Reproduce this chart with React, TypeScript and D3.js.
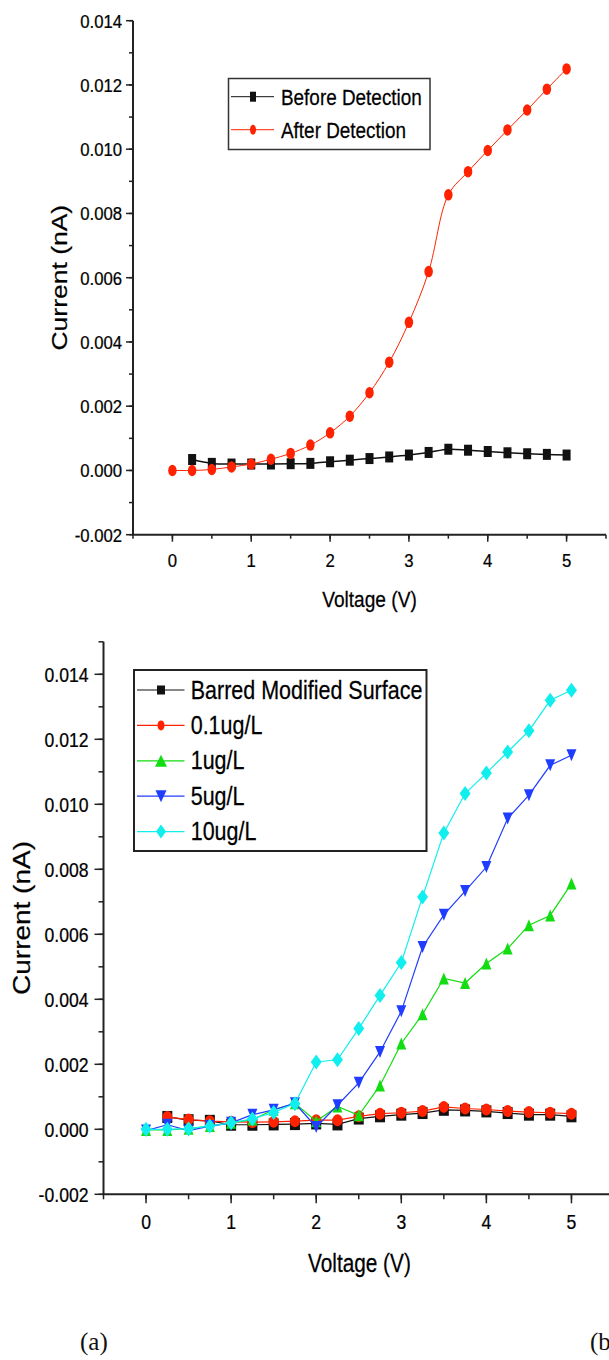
import React from "react";
import * as d3 from "d3";

// voltage steps shared by both panels
const voltage = [0, 0.25, 0.5, 0.75, 1, 1.25, 1.5, 1.75, 2, 2.25, 2.5, 2.75, 3, 3.25, 3.5, 3.75, 4, 4.25, 4.5, 4.75, 5];

// panel (a): before / after detection, black series starts at 0.25 V
const beforeDetection = [0.00034, 0.00022, 0.0002, 0.0002, 0.0002, 0.00021, 0.00022, 0.00027, 0.00032, 0.00037, 0.00042, 0.00048, 0.00056, 0.00066, 0.00063, 0.00059, 0.00055, 0.00052, 0.0005, 0.00048];
const afterDetection = [0, 0, 0.00003, 0.00011, 0.0002, 0.00035, 0.00053, 0.00079, 0.00117, 0.00169, 0.00242, 0.00337, 0.00461, 0.00619, 0.00858, 0.0093, 0.00996, 0.0106, 0.01122, 0.01187, 0.0125];

// panel (b): concentrations; first two series start at 0.25 V
const barredSurface = [0.00038, 0.00028, 0.00026, 0.00014, 0.00014, 0.00015, 0.00016, 0.00018, 0.00015, 0.00033, 0.0004, 0.00045, 0.0005, 0.0006, 0.00058, 0.00055, 0.0005, 0.00045, 0.00045, 0.0004];
const conc01 = [0.00038, 0.0003, 0.00025, 0.00023, 0.00022, 0.00023, 0.00025, 0.00028, 0.00028, 0.0004, 0.00048, 0.00051, 0.00056, 0.00069, 0.00064, 0.00061, 0.00056, 0.00053, 0.00051, 0.00048];
const conc1 = [-0.00002, -0.00002, 0.00002, 0.0001, 0.0002, 0.0003, 0.0006, 0.0008, 0.00025, 0.0007, 0.00043, 0.00135, 0.00264, 0.00354, 0.00464, 0.0045, 0.0051, 0.00556, 0.00628, 0.00658, 0.00756];
const conc5 = [-0.00004, 0.00014, -0.00004, 0.0001, 0.0002, 0.00045, 0.0006, 0.0008, 0.00007, 0.00074, 0.00143, 0.00238, 0.00363, 0.00561, 0.0066, 0.00733, 0.00807, 0.00956, 0.01028, 0.0112, 0.01151];
const conc10 = [0, 0, 0.00002, 0.0001, 0.0002, 0.00032, 0.00052, 0.00079, 0.00207, 0.00214, 0.0031, 0.00412, 0.00513, 0.00715, 0.00912, 0.01033, 0.01096, 0.01161, 0.01226, 0.0132, 0.01351];

const legendA = ["Before Detection", "After Detection"];
const legendB = ["Barred Modified Surface", "0.1ug/L", "1ug/L", "5ug/L", "10ug/L"];

const FONT = "'Liberation Sans', Arial, sans-serif";
const RED = "#ff2200";
const GREEN = "#11dd11";
const BLUE = "#1f3cff";
const CYAN = "#11eeee";

// text squeezed horizontally, like the original figure
function NText({ x, y, s = 0.86, size, anchor = "start", rotate = false, children }: any) {
  const tr = `translate(${x},${y}) scale(${s},1)` + (rotate ? " rotate(-90)" : "");
  return (
    <text transform={tr} fontFamily={FONT} fontSize={size} textAnchor={anchor} fill="#000" stroke="#000" strokeWidth={0.25}>
      {children}
    </text>
  );
}

function Marker({ type, x, y, w, h, color }: any) {
  if (type === "square") return <rect x={x - w / 2} y={y - h / 2} width={w} height={h} fill={color} />;
  if (type === "circle") return <ellipse cx={x} cy={y} rx={w / 2} ry={h / 2} fill={color} />;
  if (type === "up") return <path d={`M${x},${y - h / 2}L${x + w / 2},${y + h / 2}L${x - w / 2},${y + h / 2}Z`} fill={color} />;
  if (type === "down") return <path d={`M${x - w / 2},${y - h / 2}L${x + w / 2},${y - h / 2}L${x},${y + h / 2}Z`} fill={color} />;
  return <path d={`M${x},${y - h / 2}L${x + w / 2},${y}L${x},${y + h / 2}L${x - w / 2},${y}Z`} fill={color} />;
}

function Axes({ x, y, fs, labelGap, xBase, majorLen, minorLen }: any) {
  const [x0, x1] = x.range();
  const [y0, y1] = y.range();
  const fmtY = (t: number) => d3.format(".3f")(t).replace("\u2212", "-");
  return (
    <g>
      <line x1={x0} x2={x0} y1={y0} y2={y1} stroke="#222" strokeWidth={2} />
      <line x1={x0 - 1} x2={x1} y1={y0} y2={y0} stroke="#222" strokeWidth={2} />
      {y.ticks(20).map((t: number) => (
        <line key={"ym" + t} x1={x0} x2={x0 - minorLen} y1={y(t)} y2={y(t)} stroke="#222" strokeWidth={1.5} />
      ))}
      {y.ticks(8).map((t: number) => (
        <g key={"y" + t}>
          <line x1={x0} x2={x0 - majorLen} y1={y(t)} y2={y(t)} stroke="#222" strokeWidth={1.5} />
          <NText x={x0 - majorLen - labelGap} y={y(t) + fs * 0.36} size={fs} s={0.88} anchor="end">
            {fmtY(t)}
          </NText>
        </g>
      ))}
      {x.ticks(12).map((t: number) => (
        <line key={"xm" + t} x1={x(t)} x2={x(t)} y1={y0} y2={y0 + minorLen} stroke="#222" strokeWidth={1.5} />
      ))}
      {x.ticks(6).map((t: number) => (
        <g key={"x" + t}>
          <line x1={x(t)} x2={x(t)} y1={y0} y2={y0 + majorLen} stroke="#222" strokeWidth={1.5} />
          <NText x={x(t)} y={xBase} size={fs} s={0.88} anchor="middle">
            {String(t)}
          </NText>
        </g>
      ))}
    </g>
  );
}

function Series({ xs, ys, x, y, color, type, w, h, curve, lw }: any) {
  const pts = xs.map((v: number, i: number) => [x(v), y(ys[i])]);
  const line = d3.line().curve(curve || d3.curveLinear);
  return (
    <g>
      <path d={line(pts) || ""} fill="none" stroke={color} strokeWidth={lw} />
      {pts.map((p: number[], i: number) => (
        <Marker key={i} type={type} x={p[0]} y={p[1]} w={w} h={h} color={color} />
      ))}
    </g>
  );
}

function PanelA() {
  const x = d3.scaleLinear().domain([-0.5, 5.5]).range([133, 606]);
  const y = d3.scaleLinear().domain([-0.002, 0.014]).range([534.7, 20.7]);
  const rows = [
    { color: "#111", type: "square" },
    { color: RED, type: "circle" },
  ];
  return (
    <g>
      <Axes x={x} y={y} fs={19} labelGap={4} xBase={567} majorLen={7} minorLen={4} />
      <Series xs={voltage.slice(1)} ys={beforeDetection} x={x} y={y} color="#111" type="square" w={8} h={11} lw={1.5} curve={d3.curveCatmullRom} />
      <Series xs={voltage} ys={afterDetection} x={x} y={y} color={RED} type="circle" w={8.5} h={11.5} lw={1} curve={d3.curveCatmullRom} />
      <rect x={228.5} y={78.5} width={201.5} height={71} fill="none" stroke="#333" strokeWidth={1.5} />
      {legendA.map((name, i) => {
        const cy = 96.7 + i * 33;
        return (
          <g key={name}>
            <line x1={231} x2={274} y1={cy} y2={cy} stroke={rows[i].color} strokeWidth={1} />
            <Marker type={rows[i].type} x={253} y={cy} w={6} h={10} color={rows[i].color} />
            <NText x={281} y={cy + 8.2} size={22} s={0.86}>
              {name}
            </NText>
          </g>
        );
      })}
      <NText x={66.5} y={277.7} size={26.5} s={0.8} anchor="middle" rotate>
        Current (nA)
      </NText>
      <NText x={369.5} y={607} size={22} s={0.87} anchor="middle">
        Voltage (V)
      </NText>
    </g>
  );
}

function PanelB() {
  const x = d3.scaleLinear().domain([-0.5, 5.5]).range([103.5, 614]);
  const y = d3.scaleLinear().domain([-0.002, 0.015]).range([1194.3, 641.8]);
  const rows = [
    { color: "#111", type: "square", ys: barredSurface, lw: 8, lh: 9, w: 10, h: 12 },
    { color: RED, type: "circle", ys: conc01, lw: 7, lh: 10, w: 10, h: 12 },
    { color: GREEN, type: "up", ys: conc1, lw: 12, lh: 12, w: 10, h: 12 },
    { color: BLUE, type: "down", ys: conc5, lw: 11, lh: 12, w: 10, h: 12 },
    { color: CYAN, type: "diamond", ys: conc10, lw: 10, lh: 14, w: 11, h: 15 },
  ];
  return (
    <g>
      <Axes x={x} y={y} fs={20} labelGap={6} xBase={1229} majorLen={9} minorLen={5} />
      {rows.map((r, i) => (
        <Series
          key={i}
          xs={r.ys.length === voltage.length ? voltage : voltage.slice(1)}
          ys={r.ys}
          x={x}
          y={y}
          color={r.color}
          type={r.type}
          w={r.w}
          h={r.h}
          lw={1.2}
        />
      ))}
      <rect x={134} y={670} width={292.5} height={181} fill="none" stroke="#222" strokeWidth={2} />
      {legendB.map((name, i) => {
        const cy = 690 + i * 35.4;
        const r = rows[i];
        return (
          <g key={name}>
            <line x1={137} x2={184.5} y1={cy} y2={cy} stroke={r.color} strokeWidth={1.2} />
            <Marker type={r.type} x={161} y={cy} w={r.lw} h={r.lh} color={r.color} />
            <NText x={190.7} y={cy + 8.5} size={25} s={0.86}>
              {name}
            </NText>
          </g>
        );
      })}
      <NText x={29.8} y={918} size={28} s={0.885} anchor="middle" rotate>
        Current (nA)
      </NText>
      <NText x={359.4} y={1272} size={26} s={0.8} anchor="middle">
        Voltage (V)
      </NText>
    </g>
  );
}

export default function App() {
  return (
    <svg
      width={609}
      height={1360}
      style={{ position: "absolute", left: 0, top: 0, background: "#fff" }}
    >
      <rect width={609} height={1360} fill="#fff" />
      <PanelA />
      <PanelB />
      <text x={80} y={1350} fontFamily="'Liberation Serif', 'Times New Roman', serif" fontSize={25} fill="#111">
        (a)
      </text>
      <text x={590} y={1350} fontFamily="'Liberation Serif', 'Times New Roman', serif" fontSize={25} fill="#111">
        (b)
      </text>
    </svg>
  );
}
